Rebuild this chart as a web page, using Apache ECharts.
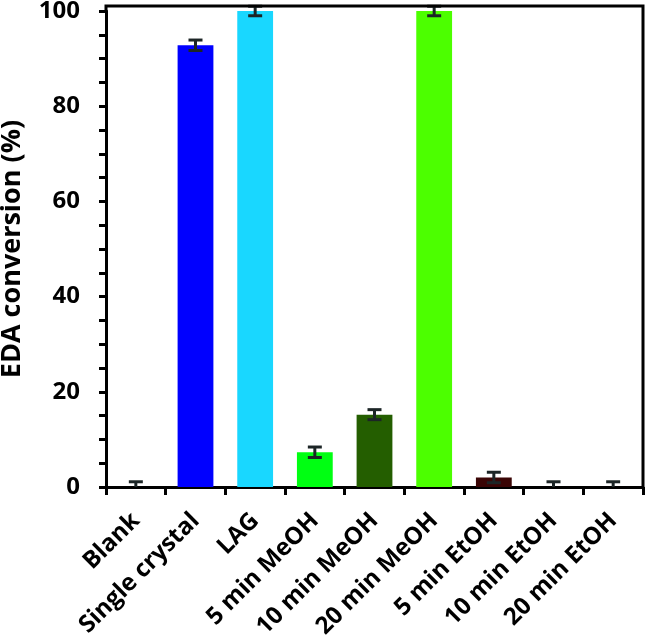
<!DOCTYPE html>
<html><head><meta charset="utf-8">
<script src="https://cdn.jsdelivr.net/npm/echarts@6/dist/echarts.min.js"></script>
<style>html,body{margin:0;padding:0;background:#fff}#c{width:647px;height:639px}</style>
</head><body><div id="c"></div>
<script>
const categories = ['Blank','Single crystal','LAG','5 min MeOH','10 min MeOH','20 min MeOH','5 min EtOH','10 min EtOH','20 min EtOH'];
const values = [0, 92.8, 100, 7.3, 15.2, 100, 2.0, 0, 0];
const errors = [1.1, 1.1, 1.0, 1.1, 1.05, 1.0, 1.1, 1.1, 1.1];
const colors = ['#ffffff','#0000ff','#19d7ff','#00ff12','#245e00','#4cff00','#3a0505','#ffffff','#ffffff'];
const yTicks = [0, 20, 40, 60, 80, 100];

const FONT = 'Open Sans';
const chart = echarts.init(document.getElementById('c'));
const G = {left:106, right:4, top:11, bottom:152, containLabel:false, outerBoundsMode:'none'};
chart.setOption({
  animation:false,
  backgroundColor:'#fff',
  grid:G,
  xAxis:{
    type:'category', data:categories,
    axisLine:{lineStyle:{color:'#000',width:3}},
    axisTick:{show:true,length:8,lineStyle:{color:'#000',width:3},alignWithLabel:false},
    axisLabel:{rotate:45,interval:0,margin:30,color:'#000',fontFamily:FONT,fontWeight:'bold',fontSize:24}
  },
  yAxis:{
    type:'value', min:0, max:100, interval:20,
    name:'EDA conversion (%)', nameLocation:'middle', nameGap:80,
    nameTextStyle:{color:'#000',fontFamily:FONT,fontWeight:'bold',fontSize:27},
    axisLine:{show:true,lineStyle:{color:'#000',width:3}},
    axisTick:{show:true,length:7,lineStyle:{color:'#000',width:3}},
    minorTick:{show:true,splitNumber:4,length:7,lineStyle:{color:'#000',width:3}},
    splitLine:{show:false},
    axisLabel:{margin:26,color:'#000',fontFamily:FONT,fontWeight:'bold',fontSize:24,
      formatter:v=>yTicks.includes(v)?String(v):''}
  },
  graphic:[
    {type:'polyline',shape:{points:[[106,12],[106,6],[643,6],[643,488]]},style:{stroke:'#000',lineWidth:3,fill:null},z:10}
  ],
  series:[
    {type:'bar', barWidth:'60%',
     data:values.map((v,i)=>({value:v,itemStyle:{color:colors[i]}})), z:2},
    {type:'custom', z:5, clip:false,
     data:values.map((v,i)=>[i,v,errors[i]]),
     renderItem:function(params,api){
       const i=api.value(0), v=api.value(1), e=api.value(2);
       const hi=api.coord([i,v+e]), lo=api.coord([i,Math.max(0,v-e)]);
       const w=7;
       const children=[
         {type:'line',shape:{x1:hi[0],y1:hi[1],x2:lo[0],y2:lo[1]},style:{stroke:'#1c2526',lineWidth:3}},
         {type:'line',shape:{x1:hi[0]-w,y1:hi[1],x2:hi[0]+w,y2:hi[1]},style:{stroke:'#1c2526',lineWidth:3}}
       ];
       if(v-e>0) children.push({type:'line',shape:{x1:lo[0]-w,y1:lo[1],x2:lo[0]+w,y2:lo[1]},style:{stroke:'#1c2526',lineWidth:3}});
       return {type:'group',children};
     }}
  ]
});
</script></body></html>
